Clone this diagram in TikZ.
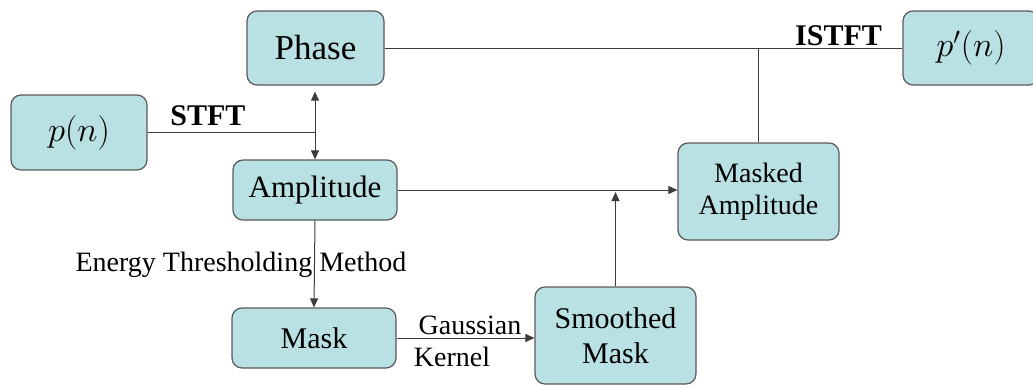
\documentclass[tikz,border=0pt]{standalone}
\usepackage{fontspec}
\setmainfont{Liberation Serif}
\usetikzlibrary{arrows.meta}

\definecolor{boxfill}{HTML}{B9E0E3}
\definecolor{boxline}{HTML}{5A5A5A}
\definecolor{wire}{HTML}{3C3C3C}

\tikzset{
    block/.style={draw=boxline, line width=0.6pt, fill=boxfill, rounded corners=5pt,
        align=center, inner sep=0pt},
    wire/.style={draw=wire, line width=0.5pt},
    flow/.style={wire, -{Triangle[length=4.5pt,width=4pt]}},
    lbl/.style={font=\rmfamily\fontsize{14}{16}\selectfont, inner sep=1pt}
}

\begin{document}
\begin{tikzpicture}[x=0.5pt, y=-0.5pt, font=\rmfamily]

    \useasboundingbox (0,0) rectangle (1033,386);

    % === BLOCKS ===
    \node[block, minimum width=68.5pt, minimum height=37pt, font=\rmfamily\fontsize{17.5}{19}\selectfont]
        (phase) at (315.5,48) {Phase};
    \node[block, minimum width=68pt, minimum height=37.5pt, font=\fontsize{17.5}{19}\selectfont]
        (pin) at (79,132.5) {$p(n)$};
    \node[block, minimum width=68pt, minimum height=37pt, font=\fontsize{17.5}{19}\selectfont]
        (pout) at (971,48) {$p'(n)$};
    \node[block, minimum width=82pt, minimum height=30pt, font=\rmfamily\fontsize{15.5}{17}\selectfont]
        (amp) at (315,190) {Amplitude};
    \node[block, minimum width=82pt, minimum height=30pt, font=\rmfamily\fontsize{15}{17}\selectfont]
        (mask) at (314,338) {Mask};
    \node[block, minimum width=80.5pt, minimum height=48.5pt, font=\rmfamily\fontsize{15}{17.5}\selectfont]
        (smooth) at (615.5,335.5) {Smoothed\\Mask};
    \node[block, minimum width=80.5pt, minimum height=48.5pt, font=\rmfamily\fontsize{14}{16}\selectfont]
        (masked) at (758.5,191.5) {Masked\\Amplitude};

    % === JUNCTIONS ===
    \coordinate (stftend) at (amp.north |- pin.east);
    \coordinate (tap) at (masked.north |- phase.east);
    \coordinate (merge) at (smooth.north |- amp.east);

    % === CONNECTORS ===
    \draw[wire] (pin.east) -- (stftend)
        node[pos=0.36, above, font=\rmfamily\fontsize{15}{17}\selectfont\bfseries] (stft) {STFT};
    \draw[wire, {Triangle[length=4.5pt,width=4pt]}-{Triangle[length=4.5pt,width=4pt]}]
        ([yshift=-3pt]phase.south -| stftend) -- (amp.north -| stftend);
    \draw[wire] (phase.east) -- (pout.west)
        node[pos=1, anchor=south east, xshift=-9pt, inner sep=1pt,
             font=\rmfamily\fontsize{15}{17}\selectfont\bfseries] (istft) {ISTFT};
    \draw[wire] (masked.north) -- (tap);
    \draw[flow] (amp.east) -- (amp.east -| masked.west);
    \draw[flow] (smooth.north) -- ([yshift=-1pt]merge);
    \draw[flow] (amp.south) -- (mask.north);
    \node[lbl] (etm) at (241,265) {Energy Thresholding Method};
    \draw[flow] (mask.east) -- (mask.east -| smooth.west);
    \node[lbl] (gauss) at (470,325) {Gaussian};
    \node[lbl] (kern) at (452,357) {Kernel};

\end{tikzpicture}
\end{document}
